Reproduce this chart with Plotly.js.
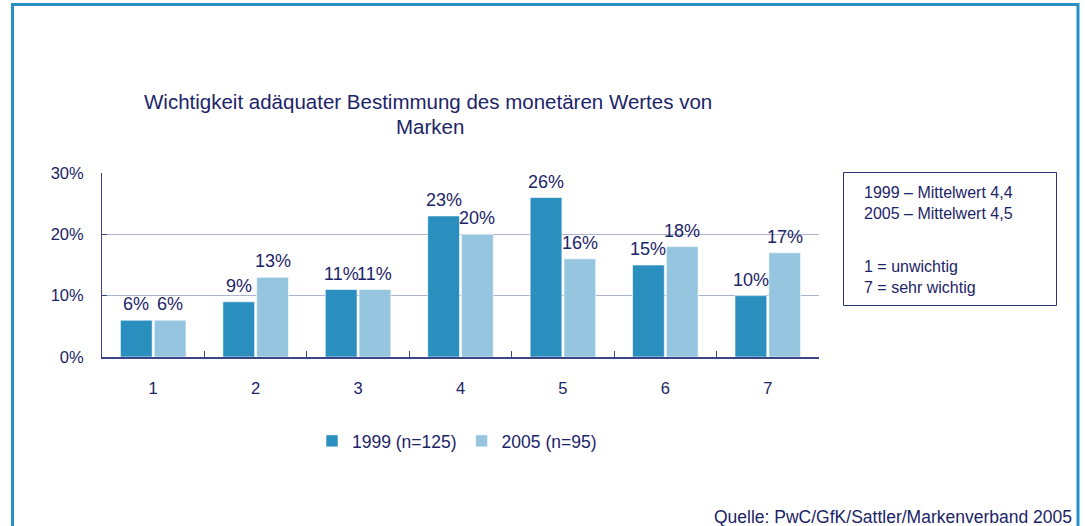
<!DOCTYPE html>
<html>
<head>
<meta charset="utf-8">
<script src="https://cdn.plot.ly/plotly-3.0.1.min.js"></script>
<style>
html,body{margin:0;padding:0;background:#fff;}
#chart{width:1085px;height:526px;}
</style>
</head>
<body>
<div id="chart"></div>
<script>
// ---- data ----
const categories = ['1','2','3','4','5','6','7'];
const values1999 = [6, 9, 11, 23, 26, 15, 10];
const values2005 = [6, 13, 11, 20, 16, 18, 17];
const seriesNames = ['1999 (n=125)', '2005 (n=95)'];
const titleLines = ['Wichtigkeit adäquater Bestimmung des monetären Wertes von', 'Marken'];
const infoLines1 = ['1999 – Mittelwert 4,4', '2005 – Mittelwert 4,5'];
const infoLines2 = ['1 = unwichtig', '7 = sehr wichtig'];
const sourceText = 'Quelle: PwC/GfK/Sattler/Markenverband 2005';

// ---- layout geometry (pixels) ----
const W = 1085, H = 526;
const L = 102, R = 819, T = 173, B = 357;
const pw = R - L, ph = B - T;
const px = x => (x - L) / pw;
const py = y => (B - y) / ph;

const navy = '#1c2468';
const dark = '#2a8fbe';
const light = '#96c5df';
const font = 'Liberation Sans, Arial, sans-serif';
const bargap = 0.34;
const off = (1 - bargap) / 4;

const traces = [
  {type:'bar', name:seriesNames[0], x:categories, y:values1999,
   marker:{color:dark, line:{color:'#ffffff', width:0.6}}, hoverinfo:'skip'},
  {type:'bar', name:seriesNames[1], x:categories, y:values2005,
   marker:{color:light, line:{color:'#ffffff', width:0.6}}, hoverinfo:'skip'}
];

const annotations = [];
categories.forEach((c, i) => {
  annotations.push({x:i - off, y:values1999[i], xref:'x', yref:'y', text:values1999[i] + '%',
    showarrow:false, yanchor:'bottom', yshift:4, font:{family:font, size:18, color:navy}});
  annotations.push({x:i + off, y:values2005[i], xref:'x', yref:'y', text:values2005[i] + '%',
    showarrow:false, yanchor:'bottom', yshift:4, font:{family:font, size:18, color:navy}});
});
annotations.push({xref:'paper', yref:'paper', x:px(428), y:py(102), xanchor:'center', yanchor:'middle',
  text:titleLines[0], showarrow:false, font:{family:font, size:20.5, color:navy}});
annotations.push({xref:'paper', yref:'paper', x:px(430), y:py(126), xanchor:'center', yanchor:'middle',
  text:titleLines[1], showarrow:false, font:{family:font, size:20.5, color:navy}});
annotations.push({xref:'paper', yref:'paper', x:px(862), y:py(203), xanchor:'left', yanchor:'middle',
  text:infoLines1.join('<br>'), showarrow:false, align:'left', font:{family:font, size:16, color:navy}});
annotations.push({xref:'paper', yref:'paper', x:px(862), y:py(277), xanchor:'left', yanchor:'middle',
  text:infoLines2.join('<br>'), showarrow:false, align:'left', font:{family:font, size:16, color:navy}});
annotations.push({xref:'paper', yref:'paper', x:px(1074), y:py(517), xanchor:'right', yanchor:'middle',
  text:sourceText, showarrow:false, font:{family:font, size:17.5, color:navy}});

const shapes = [
  {type:'rect', xref:'paper', yref:'paper', x0:px(12.5), x1:px(1078), y0:py(4.5), y1:py(560),
   line:{color:'#2a8fc4', width:3}, fillcolor:'rgba(0,0,0,0)', layer:'below'},
  {type:'rect', xref:'paper', yref:'paper', x0:px(843.5), x1:px(1056.5), y0:py(172.5), y1:py(305.5),
   line:{color:'#2a3375', width:1}, fillcolor:'rgba(0,0,0,0)'}
];

const layout = {
  width:W, height:H,
  margin:{l:L, r:W - R, t:T, b:H - B, pad:0},
  paper_bgcolor:'#ffffff', plot_bgcolor:'#ffffff',
  font:{family:font, size:16, color:navy},
  barmode:'group', bargap:bargap, bargroupgap:0.06,
  showlegend:true,
  legend:{orientation:'h', x:px(457), xanchor:'center', y:py(441), yanchor:'middle',
    font:{family:font, size:17.5, color:navy}, itemwidth:30, traceorder:'normal', bgcolor:'rgba(0,0,0,0)'},
  xaxis:{type:'category', showgrid:false, showline:true, linecolor:'#3c4585', linewidth:1.5,
    ticks:'inside', tickson:'boundaries', ticklen:6, tickcolor:'#3c4585', tickwidth:1,
    tickfont:{family:font, size:16.5, color:navy}, ticklabelstandoff:16, fixedrange:true},
  yaxis:{range:[0,30], dtick:10, ticksuffix:'%', showgrid:true, gridcolor:'#aab3cf', gridwidth:1,
    showline:true, linecolor:'#3c4585', linewidth:1, zeroline:false,
    ticks:'inside', ticklen:5, tickcolor:'#3c4585',
    tickfont:{family:font, size:16.5, color:navy}, ticklabelstandoff:14, fixedrange:true},
  annotations:annotations,
  shapes:shapes
};

Plotly.newPlot('chart', traces, layout, {displayModeBar:false, staticPlot:true});
</script>
</body>
</html>
